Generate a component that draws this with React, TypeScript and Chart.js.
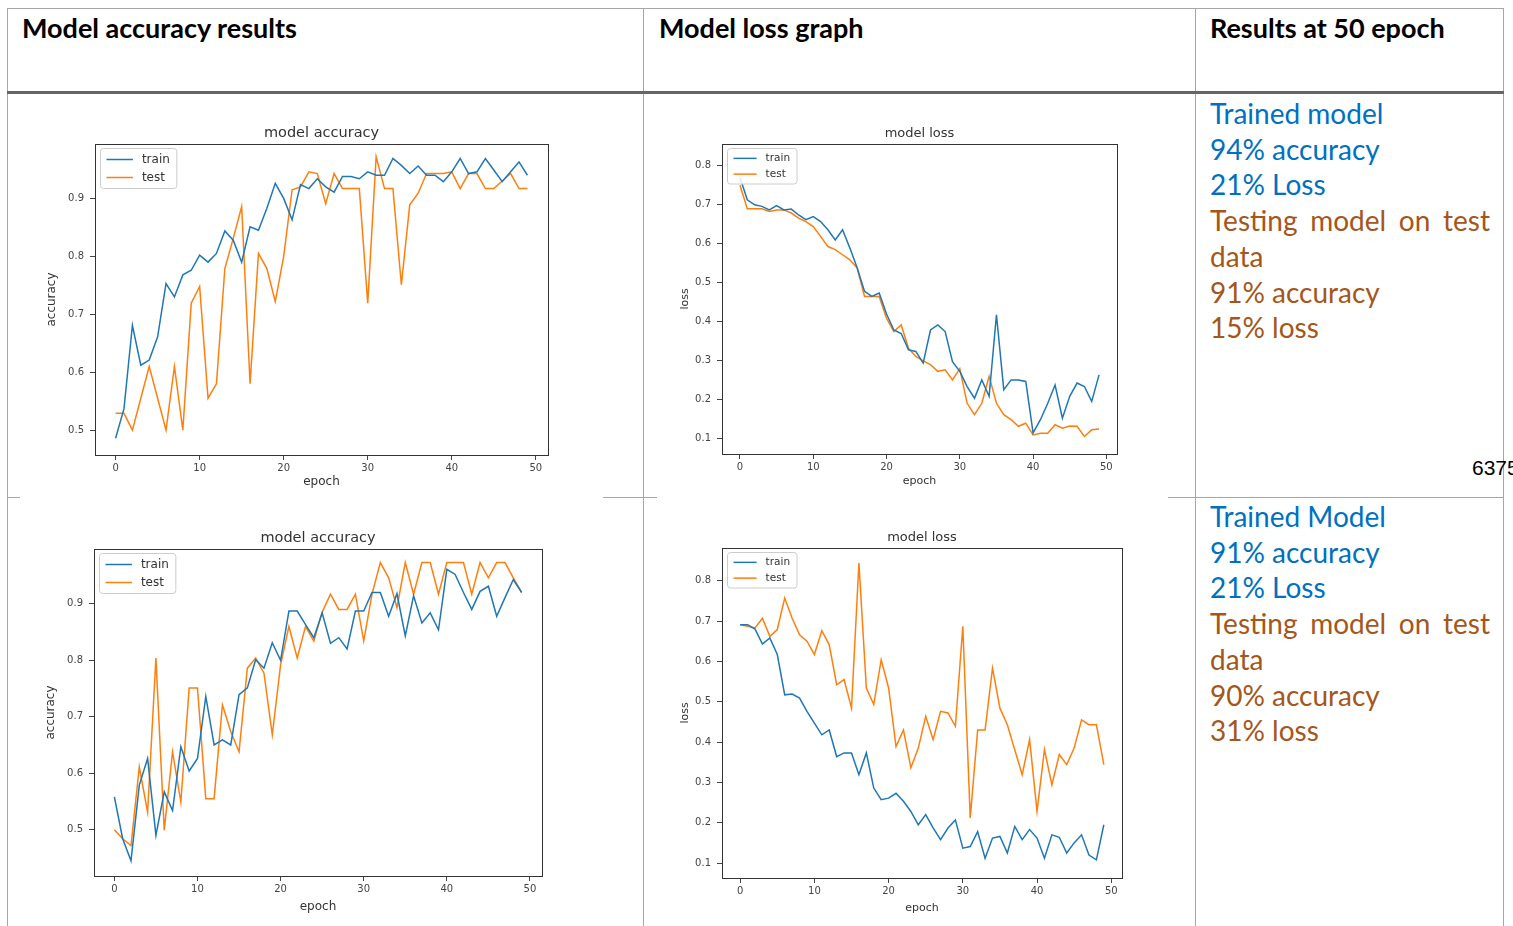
import React, { useEffect, useRef } from 'react';
import { Chart, registerables } from 'chart.js';

Chart.register(...registerables);

// ---------------- data ----------------
const EPOCHS = [0, 1, 2, 3, 4, 5, 6, 7, 8, 9, 10, 11, 12, 13, 14, 15, 16, 17, 18, 19, 20, 21, 22, 23, 24, 25, 26, 27, 28, 29, 30, 31, 32, 33, 34, 35, 36, 37, 38, 39, 40, 41, 42, 43, 44, 45, 46, 47, 48, 49];
const SERIES_NAMES = ['train', 'test'];
const X_TICK_STEP = 10;

const ACC1_TRAIN = [0.486, 0.537, 0.681, 0.612, 0.621, 0.661, 0.753, 0.73, 0.768, 0.776, 0.802, 0.79, 0.805, 0.844, 0.828, 0.79, 0.851, 0.845, 0.883, 0.926, 0.9, 0.863, 0.924, 0.917, 0.934, 0.92, 0.911, 0.938, 0.938, 0.934, 0.946, 0.94, 0.94, 0.969, 0.957, 0.943, 0.956, 0.94, 0.94, 0.929, 0.946, 0.969, 0.943, 0.946, 0.969, 0.949, 0.929, 0.946, 0.963, 0.94];
const ACC1_TEST = [0.529, 0.529, 0.5, 0.555, 0.61, 0.555, 0.5, 0.61, 0.5, 0.719, 0.748, 0.555, 0.58, 0.779, 0.831, 0.886, 0.58, 0.805, 0.779, 0.722, 0.8, 0.915, 0.92, 0.946, 0.943, 0.891, 0.943, 0.917, 0.917, 0.917, 0.719, 0.972, 0.917, 0.917, 0.751, 0.889, 0.909, 0.943, 0.943, 0.943, 0.946, 0.917, 0.943, 0.943, 0.917, 0.917, 0.93, 0.943, 0.917, 0.917];

const LOSS1_TRAIN = [0.77, 0.713, 0.7, 0.696, 0.687, 0.698, 0.687, 0.689, 0.674, 0.662, 0.67, 0.657, 0.636, 0.61, 0.636, 0.589, 0.538, 0.478, 0.465, 0.474, 0.42, 0.379, 0.37, 0.328, 0.324, 0.294, 0.379, 0.392, 0.375, 0.298, 0.273, 0.234, 0.204, 0.251, 0.209, 0.418, 0.226, 0.251, 0.251, 0.247, 0.115, 0.149, 0.191, 0.238, 0.153, 0.209, 0.243, 0.234, 0.196, 0.264];
const LOSS1_TEST = [0.75, 0.69, 0.69, 0.69, 0.683, 0.687, 0.687, 0.679, 0.666, 0.657, 0.644, 0.619, 0.593, 0.585, 0.572, 0.559, 0.538, 0.465, 0.465, 0.465, 0.409, 0.375, 0.392, 0.332, 0.311, 0.3, 0.29, 0.273, 0.277, 0.251, 0.28, 0.191, 0.162, 0.191, 0.26, 0.191, 0.162, 0.149, 0.132, 0.14, 0.11, 0.114, 0.114, 0.136, 0.127, 0.133, 0.132, 0.106, 0.123, 0.125];

const ACC2_TRAIN = [0.558, 0.484, 0.445, 0.579, 0.626, 0.49, 0.567, 0.534, 0.647, 0.604, 0.626, 0.736, 0.65, 0.659, 0.65, 0.739, 0.751, 0.801, 0.786, 0.831, 0.8, 0.887, 0.887, 0.863, 0.84, 0.884, 0.83, 0.84, 0.82, 0.887, 0.887, 0.92, 0.92, 0.878, 0.918, 0.843, 0.914, 0.866, 0.884, 0.854, 0.961, 0.952, 0.92, 0.89, 0.922, 0.931, 0.878, 0.911, 0.943, 0.92];
const ACC2_TEST = [0.5, 0.484, 0.472, 0.611, 0.531, 0.804, 0.499, 0.638, 0.549, 0.751, 0.751, 0.555, 0.555, 0.721, 0.674, 0.638, 0.786, 0.804, 0.777, 0.668, 0.792, 0.86, 0.804, 0.86, 0.834, 0.885, 0.917, 0.89, 0.89, 0.917, 0.834, 0.917, 0.973, 0.946, 0.893, 0.973, 0.917, 0.973, 0.973, 0.917, 0.973, 0.973, 0.973, 0.917, 0.973, 0.946, 0.973, 0.973, 0.946, 0.92];

const LOSS2_TRAIN = [0.691, 0.691, 0.68, 0.643, 0.658, 0.617, 0.517, 0.519, 0.509, 0.476, 0.447, 0.418, 0.43, 0.364, 0.373, 0.373, 0.319, 0.373, 0.286, 0.257, 0.261, 0.273, 0.253, 0.228, 0.195, 0.22, 0.187, 0.158, 0.187, 0.207, 0.137, 0.141, 0.178, 0.112, 0.162, 0.166, 0.125, 0.191, 0.158, 0.183, 0.162, 0.112, 0.17, 0.164, 0.125, 0.15, 0.17, 0.12, 0.108, 0.195];
const LOSS2_TEST = [0.691, 0.687, 0.683, 0.707, 0.662, 0.679, 0.757, 0.707, 0.666, 0.65, 0.617, 0.676, 0.641, 0.542, 0.555, 0.484, 0.844, 0.534, 0.493, 0.604, 0.534, 0.389, 0.43, 0.336, 0.385, 0.464, 0.406, 0.476, 0.472, 0.439, 0.687, 0.212, 0.43, 0.43, 0.583, 0.484, 0.443, 0.381, 0.319, 0.406, 0.228, 0.381, 0.294, 0.369, 0.344, 0.385, 0.455, 0.443, 0.443, 0.344];

const HEADERS = ['Model accuracy results', 'Model loss graph', 'Results at 50 epoch'];
const RESULTS_1 = [
  { text: 'Trained model', kind: 'train' },
  { text: '94% accuracy', kind: 'train' },
  { text: '21% Loss', kind: 'train' },
  { text: 'Testing model on test data', kind: 'test' },
  { text: '91% accuracy', kind: 'test' },
  { text: '15% loss', kind: 'test' },
];
const RESULTS_2 = [
  { text: 'Trained Model', kind: 'train' },
  { text: '91% accuracy', kind: 'train' },
  { text: '21% Loss', kind: 'train' },
  { text: 'Testing model on test data', kind: 'test' },
  { text: '90% accuracy', kind: 'test' },
  { text: '31% loss', kind: 'test' },
];
const PAGE_NUMBER = '6375';

// ---------------- styles ----------------
const TRAIN_COLOR = '#1f77b4';
const TEST_COLOR = '#ff7f0e';
const TEXT_BLUE = '#0070c0';
const TEXT_BROWN = '#a5561a';
const RULE = '#a6a6a6';
const FONT = '"DejaVu Sans", sans-serif';

type Spec = {
  title: string;
  yLabel: string;
  train: number[];
  test: number[];
  yMin: number;
  yMax: number;
  rect: [number, number, number, number];
  yW: number;
  xH: number;
  titleSize: number;
  axisSize: number;
  legendSize: number;
};

const SPECS: Spec[] = [
  { title: 'model accuracy', yLabel: 'accuracy', train: ACC1_TRAIN, test: ACC1_TEST, yMin: 0.457, yMax: 0.994, rect: [95, 144, 548, 455], yW: 50, xH: 34, titleSize: 14.5, axisSize: 12, legendSize: 12 },
  { title: 'model loss', yLabel: 'loss', train: LOSS1_TRAIN, test: LOSS1_TEST, yMin: 0.061, yMax: 0.856, rect: [722, 144, 1117, 454], yW: 43, xH: 34, titleSize: 13, axisSize: 11, legendSize: 10.5 },
  { title: 'model accuracy', yLabel: 'accuracy', train: ACC2_TRAIN, test: ACC2_TEST, yMin: 0.418, yMax: 0.997, rect: [94, 549, 542, 876], yW: 50, xH: 38, titleSize: 14.5, axisSize: 12, legendSize: 12 },
  { title: 'model loss', yLabel: 'loss', train: LOSS2_TRAIN, test: LOSS2_TEST, yMin: 0.063, yMax: 0.881, rect: [722, 548, 1122, 878], yW: 43, xH: 37, titleSize: 13, axisSize: 11, legendSize: 10.5 },
];

const framePlugin = {
  id: 'mplFrame',
  afterDatasetsDraw(chart: any) {
    const { ctx, chartArea: a } = chart;
    ctx.save();
    ctx.strokeStyle = '#333';
    ctx.lineWidth = 1;
    ctx.strokeRect(Math.round(a.left) + 0.5, Math.round(a.top) + 0.5, Math.round(a.right - a.left), Math.round(a.bottom - a.top));
    ctx.restore();
  },
};

const legendPlugin = {
  id: 'mplLegend',
  afterDraw(chart: any) {
    const { ctx, chartArea: a } = chart;
    const size = chart.options.plugins.mplLegend?.size ?? 11;
    const ds = chart.data.datasets;
    ctx.save();
    ctx.font = `${size}px ${FONT}`;
    const tw = Math.max(...ds.map((d: any) => ctx.measureText(d.label).width));
    const row = size * 1.5;
    const bx = Math.round(a.left) + 5.5;
    const by = Math.round(a.top) + 4.5;
    const sample = size * 2.2;
    const w = 6 + sample + 9 + tw + 7;
    const h = 4 + row * ds.length;
    ctx.fillStyle = 'rgba(255,255,255,0.85)';
    ctx.strokeStyle = '#cccccc';
    ctx.lineWidth = 1;
    ctx.beginPath();
    const r = 3;
    ctx.moveTo(bx + r, by);
    ctx.arcTo(bx + w, by, bx + w, by + h, r);
    ctx.arcTo(bx + w, by + h, bx, by + h, r);
    ctx.arcTo(bx, by + h, bx, by, r);
    ctx.arcTo(bx, by, bx + w, by, r);
    ctx.closePath();
    ctx.fill();
    ctx.stroke();
    ds.forEach((d: any, i: number) => {
      const y = by + 2 + row * (i + 0.5);
      ctx.strokeStyle = d.borderColor;
      ctx.lineWidth = 1.5;
      ctx.beginPath();
      ctx.moveTo(bx + 6, y);
      ctx.lineTo(bx + 6 + sample, y);
      ctx.stroke();
      ctx.fillStyle = '#333';
      ctx.textBaseline = 'middle';
      ctx.textAlign = 'left';
      ctx.fillText(d.label, bx + 6 + sample + 9, y);
    });
    ctx.restore();
  },
};

const PL = 10;
const PB = 4;
const TOPM = 30;

function LineChart({ spec }: { spec: Spec }) {
  const ref = useRef<HTMLCanvasElement>(null);
  const [x0, y0, x1, y1] = spec.rect;
  const W = x1 - x0 + 2 * (PL + spec.yW);
  const H = y1 - y0 + TOPM + spec.xH + PB;
  const left = x0 - spec.yW - PL;
  const top = y0 - TOPM;

  useEffect(() => {
    if (!ref.current) return;
    const titlePad = 2.2;
    const titleBlock = spec.titleSize * 1.2 + titlePad;
    const tickFont = { family: FONT, size: 10 };
    const axisFont = { family: FONT, size: spec.axisSize };
    const chart = new Chart(ref.current, {
      type: 'line',
      data: {
        labels: EPOCHS,
        datasets: [
          { label: SERIES_NAMES[0], data: spec.train, borderColor: TRAIN_COLOR, backgroundColor: TRAIN_COLOR, borderWidth: 1.5, pointRadius: 0, tension: 0, fill: false },
          { label: SERIES_NAMES[1], data: spec.test, borderColor: TEST_COLOR, backgroundColor: TEST_COLOR, borderWidth: 1.5, pointRadius: 0, tension: 0, fill: false },
        ],
      },
      options: {
        responsive: false,
        animation: false,
        devicePixelRatio: 1,
        events: [],
        layout: { padding: { left: PL, right: PL, top: TOPM - titleBlock, bottom: PB } },
        plugins: {
          legend: { display: false },
          tooltip: { enabled: false },
          title: {
            display: true,
            text: spec.title,
            color: '#333',
            font: { family: FONT, size: spec.titleSize, weight: 'normal' },
            padding: { top: 0, bottom: titlePad },
          },
          mplLegend: { size: spec.legendSize },
        } as any,
        scales: {
          x: {
            type: 'linear',
            min: -2.45,
            max: 51.45,
            afterFit: (s: any) => { s.height = spec.xH; },
            ticks: { stepSize: X_TICK_STEP, includeBounds: false, font: tickFont, color: '#444', padding: 2, maxRotation: 0, autoSkip: false },
            grid: { display: true, drawOnChartArea: false, drawTicks: true, tickLength: 5, color: '#444' },
            border: { display: false },
            title: { display: true, text: 'epoch', color: '#333', font: axisFont, padding: 0 },
          },
          y: {
            type: 'linear',
            min: spec.yMin,
            max: spec.yMax,
            afterFit: (s: any) => { s.width = spec.yW; },
            ticks: { stepSize: 0.1, includeBounds: false, font: tickFont, color: '#444', padding: 6, autoSkip: false },
            grid: { display: true, drawOnChartArea: false, drawTicks: true, tickLength: 5, color: '#444' },
            border: { display: false },
            title: { display: true, text: spec.yLabel, color: '#333', font: axisFont, padding: 0 },
          },
          ySpacer: {
            type: 'linear',
            position: 'right',
            display: true,
            min: spec.yMin,
            max: spec.yMax,
            afterFit: (s: any) => { s.width = spec.yW; },
            ticks: { display: false },
            grid: { display: false, drawTicks: false },
            border: { display: false },
          },
        },
      } as any,
      plugins: [framePlugin, legendPlugin],
    });
    return () => chart.destroy();
  }, [spec]);

  return (
    <canvas
      ref={ref}
      width={W}
      height={H}
      style={{ position: 'absolute', left, top, width: W, height: H }}
    />
  );
}

function Rule({ x, y, w, h, color = RULE }: { x: number; y: number; w: number; h: number; color?: string }) {
  return <div style={{ position: 'absolute', left: x, top: y, width: w, height: h, background: color }} />;
}

function Results({ items, top }: { items: { text: string; kind: string }[]; top: number }) {
  return (
    <div style={{ position: 'absolute', left: 1210, top, width: 280, fontFamily: 'Lato, "Open Sans", sans-serif', fontSize: 28, lineHeight: '35.7px' }}>
      {items.map((it, i) => (
        <div key={i} style={{ color: it.kind === 'train' ? TEXT_BLUE : TEXT_BROWN, textAlign: 'justify', margin: 0 }}>
          {it.text}
        </div>
      ))}
    </div>
  );
}

export default function App() {
  const headerStyle: React.CSSProperties = {
    position: 'absolute',
    top: 12,
    fontFamily: 'Lato, "Open Sans", sans-serif',
    fontWeight: 700,
    fontSize: 27,
    lineHeight: '32px',
    color: '#000',
    whiteSpace: 'nowrap',
  };
  return (
    <div style={{ position: 'absolute', left: 0, top: 0, width: 1513, height: 926, overflow: 'hidden', background: '#fff' }}>
      {/* table rules */}
      <Rule x={7} y={8} w={1497} h={1} />
      <Rule x={7} y={8} w={1} h={918} />
      <Rule x={643} y={8} w={1} h={918} />
      <Rule x={1195} y={8} w={1} h={918} />
      <Rule x={1503} y={8} w={1} h={918} />
      <Rule x={7} y={91} w={1497} h={3} color="#666" />
      <Rule x={7} y={497} w={13} h={1} />
      <Rule x={603} y={497} w={54} h={1} />
      <Rule x={1168} y={497} w={336} h={1} />

      <div style={{ ...headerStyle, left: 22 }}>{HEADERS[0]}</div>
      <div style={{ ...headerStyle, left: 659 }}>{HEADERS[1]}</div>
      <div style={{ ...headerStyle, left: 1210 }}>{HEADERS[2]}</div>

      {SPECS.map((s, i) => (
        <LineChart key={i} spec={s} />
      ))}

      <Results items={RESULTS_1} top={96} />
      <Results items={RESULTS_2} top={499} />

      <div style={{ position: 'absolute', left: 1472, top: 455, fontFamily: '"Liberation Sans", Arial, sans-serif', fontSize: 21, lineHeight: '26px', color: '#000', whiteSpace: 'nowrap' }}>
        {PAGE_NUMBER}
      </div>
    </div>
  );
}
